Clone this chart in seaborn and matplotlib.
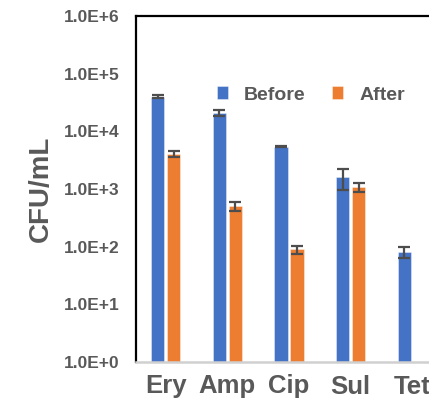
import numpy as np
import pandas as pd
import matplotlib
matplotlib.use("Agg")
import matplotlib.pyplot as plt
import seaborn as sns

# Colony counts per antibiotic, before and after treatment (CFU/mL)
drugs = ["Ery", "Amp", "Cip", "Sul", "Tet"]
before = [40000, 21000, 5400, 1600, 81]
after = [4100, 500, 90, 1070, np.nan]
before_err = [2000, 2500, 150, 630, 18]
after_err = [450, 85, 14, 190, np.nan]
groups = ["Before", "After"]

BLUE = "#4472C4"
ORANGE = "#ED7D31"
GREY = "#595959"

sns.set_style("white")
plt.rcParams["font.family"] = ["Liberation Sans", "DejaVu Sans"]
plt.rcParams["font.weight"] = "bold"

df = pd.DataFrame({
    "drug": drugs * 2,
    "group": [groups[0]] * len(drugs) + [groups[1]] * len(drugs),
    "cfu": before + after,
    "err": before_err + after_err,
})

W, H = 429, 404
fig = plt.figure(figsize=(W / 100, H / 100), dpi=100)
left_px, right_px, top_px, bot_px = 136, 442, 16, 362
ax = fig.add_axes([left_px / W, (H - bot_px) / H,
                   (right_px - left_px) / W, (bot_px - top_px) / H])
ax.set_yscale("log")

sns.barplot(data=df.dropna(subset=["cfu"]), x="drug", y="cfu", hue="group",
            order=drugs, hue_order=groups, palette=[BLUE, ORANGE],
            saturation=1, width=0.518, gap=0.15, errorbar=None,
            linewidth=0.6, edgecolor=(1, 1, 1, 0.45),
            legend=True, ax=ax)

# error bars on each drawn bar
err_lookup = {(r.drug, r.group): r.err for r in df.itertuples()}
for grp, cont in zip(groups, ax.containers):
    for bar in cont:
        xc = bar.get_x() + bar.get_width() / 2
        top = bar.get_y() + bar.get_height()
        drug = drugs[int(round(xc))]
        e = err_lookup[(drug, grp)]
        if np.isfinite(e):
            ax.errorbar(xc, top, yerr=e, fmt="none", ecolor="#4d4d4d",
                        elinewidth=1.6, capsize=4.3, capthick=1.6, zorder=5)

ax.set_ylim(1, 1e6)
ax.set_xlim(-0.48, 4.48)
ax.set_yticks([1e0, 1e1, 1e2, 1e3, 1e4, 1e5, 1e6])
ax.set_yticklabels(["1.0E+0", "1.0E+1", "1.0E+2", "1.0E+3", "1.0E+4", "1.0E+5", "1.0E+6"])
ax.yaxis.set_minor_locator(matplotlib.ticker.NullLocator())
ax.tick_params(axis="y", length=0, pad=12, labelsize=12.5, labelcolor=GREY)
ax.tick_params(axis="x", length=0, pad=9, labelsize=18.5, labelcolor=GREY)
for lab in ax.get_xticklabels() + ax.get_yticklabels():
    lab.set_fontweight("bold")

ax.set_xlabel("")
ax.set_ylabel("CFU/mL", fontsize=20, fontweight="bold", color=GREY, labelpad=7)

for side in ["left", "top"]:
    ax.spines[side].set_color("black")
    ax.spines[side].set_linewidth(1.6)
ax.spines["bottom"].set_color("#d0d0d0")
ax.spines["bottom"].set_linewidth(1.8)
ax.spines["right"].set_visible(False)

handles, labels = ax.get_legend_handles_labels()
ax.legend(handles[:2], labels[:2], ncol=2, frameon=False,
          loc="center left", bbox_to_anchor=(217 / W, (H - 95) / H),
          bbox_transform=fig.transFigure, borderpad=0, borderaxespad=0,
          prop={"size": 14, "weight": "bold"}, labelcolor=GREY,
          handlelength=0.55, handleheight=0.65, handletextpad=0.85,
          columnspacing=1.35)

fig.savefig("out.png", dpi=100)
